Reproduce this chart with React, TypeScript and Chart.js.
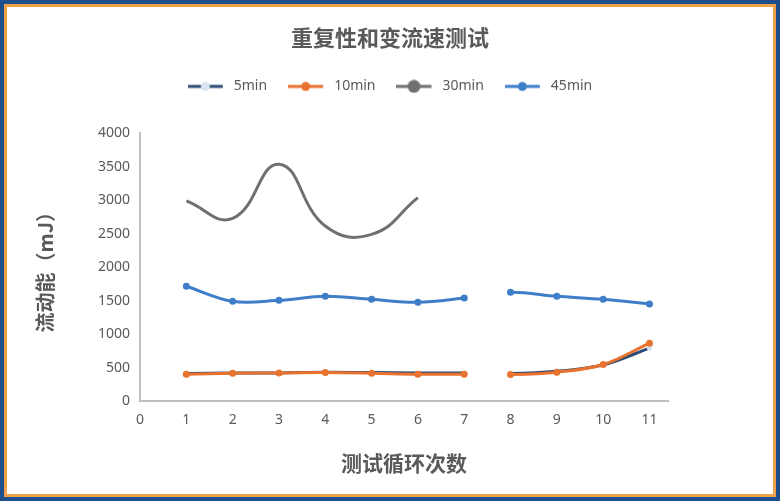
import { useEffect, useRef } from "react";
import { Chart, registerables } from "chart.js";

Chart.register(...registerables);

// test cycles (x) and flow energy in mJ (y)
const cycles = [1, 2, 3, 4, 5, 6, 7, 8, 9, 10, 11];
const cycles30min = [1, 2, 3, 4, 5, 6];
const energy5min = [410, 420, 420, 430, 425, 420, 420, 410, 445, 540, 790];
const energy10min = [400, 415, 420, 425, 415, 400, 400, 395, 430, 545, 865];
const energy30min = [2990, 2730, 3540, 2615, 2490, 3040];
const energy45min = [1715, 1490, 1505, 1565, 1520, 1475, 1540, 1625, 1565, 1520, 1450];
const seriesNames = ["5min", "10min", "30min", "45min"];
const xTickValues = [0, 1, 2, 3, 4, 5, 6, 7, 8, 9, 10, 11];
const breakAfterCycle = 7; // no line between cycle 7 and 8

const TEXT = "#595959";
const AXIS = "#BFBFBF";
const CJK = '"Noto Sans CJK SC", "Noto Sans", sans-serif';
const NUM = '"Noto Sans", "Noto Sans CJK SC", sans-serif';

const toPoints = (xs: number[], ys: number[]) => xs.map((x, i) => ({ x, y: ys[i] }));

// legend icon: a short line with a circle in the middle
const makeIcon = (line: string, fill: string, r: number) => {
  const c = document.createElement("canvas");
  c.width = 39;
  c.height = 14;
  const ctx = c.getContext("2d");
  if (ctx) {
    ctx.strokeStyle = line;
    ctx.lineWidth = 3;
    ctx.beginPath();
    ctx.moveTo(0, 7);
    ctx.lineTo(35, 7);
    ctx.stroke();
    ctx.fillStyle = fill;
    ctx.beginPath();
    ctx.arc(17.5, 7, r, 0, Math.PI * 2);
    ctx.fill();
  }
  return c;
};

// extra room under the legend
const legendMargin = {
  id: "legendMargin",
  beforeInit(chart: any) {
    const fit = chart.legend.fit;
    chart.legend.fit = function () {
      fit.bind(chart.legend)();
      this.height += 30;
    };
  },
};

const App = () => {
  const chartRef = useRef<HTMLCanvasElement | null>(null);
  const chartInstance = useRef<Chart | null>(null);

  useEffect(() => {
    if (!chartRef.current) return;
    if (chartInstance.current) chartInstance.current.destroy();

    const colors = ["#2B4A74", "#E9722E", "#707070", "#3E7EC9"];
    const markerFill = ["#D9E4F2", "#E9722E", "#707070", "#3E7EC9"];
    const icons = [
      makeIcon(colors[0], markerFill[0], 4.5),
      makeIcon(colors[1], markerFill[1], 4.5),
      makeIcon(colors[2], markerFill[2], 6.5),
      makeIcon(colors[3], markerFill[3], 4.5),
    ];
    const gap = (color: string) => (ctx: any) =>
      ctx.p0.parsed.x === breakAfterCycle ? "transparent" : color;

    const ctx = chartRef.current.getContext("2d");
    if (!ctx) return;
    chartInstance.current = new Chart(ctx, {
      type: "line",
      data: {
        datasets: [
          {
            label: seriesNames[0],
            data: toPoints(cycles, energy5min),
            borderColor: colors[0],
            backgroundColor: markerFill[0],
            pointBackgroundColor: markerFill[0],
            pointBorderWidth: 0,
            pointRadius: 2.5,
            borderWidth: 3,
            tension: 0.35,
            segment: { borderColor: gap(colors[0]) },
            order: 3,
          },
          {
            label: seriesNames[1],
            data: toPoints(cycles, energy10min),
            borderColor: colors[1],
            backgroundColor: markerFill[1],
            pointBackgroundColor: markerFill[1],
            pointBorderWidth: 0,
            pointRadius: 3.5,
            borderWidth: 3,
            tension: 0.35,
            segment: { borderColor: gap(colors[1]) },
            order: 2,
          },
          {
            label: seriesNames[2],
            data: toPoints(cycles30min, energy30min),
            borderColor: colors[2],
            backgroundColor: markerFill[2],
            pointRadius: 0,
            borderWidth: 3,
            tension: 0.45,
            order: 1,
          },
          {
            label: seriesNames[3],
            data: toPoints(cycles, energy45min),
            borderColor: colors[3],
            backgroundColor: markerFill[3],
            pointBackgroundColor: markerFill[3],
            pointBorderWidth: 0,
            pointRadius: 3.5,
            borderWidth: 3,
            tension: 0.35,
            segment: { borderColor: gap(colors[3]) },
            order: 0,
          },
        ],
      },
      options: {
        animation: false,
        responsive: true,
        maintainAspectRatio: false,
        layout: { padding: { left: 0, right: 0, top: 0, bottom: 14 } },
        plugins: {
          title: {
            display: true,
            text: "重复性和变流速测试",
            color: TEXT,
            font: { family: CJK, size: 22, weight: "bold" },
            padding: { top: 17, bottom: 8 },
          },
          legend: {
            position: "top",
            labels: {
              usePointStyle: true,
              pointStyleWidth: 39,
              padding: 21,
              color: TEXT,
              font: { family: NUM, size: 14 },
              generateLabels: (chart: any) =>
                chart.data.datasets.map((ds: any, i: number) => ({
                  text: ds.label,
                  pointStyle: icons[i],
                  fillStyle: "transparent",
                  strokeStyle: "transparent",
                  lineWidth: 0,
                  hidden: false,
                  datasetIndex: i,
                  fontColor: TEXT,
                })),
            },
          },
          tooltip: { enabled: false },
        },
        scales: {
          x: {
            type: "linear",
            min: 0,
            max: 11.4,
            afterBuildTicks: (scale: any) => {
              scale.ticks = xTickValues.map((v) => ({ value: v }));
            },
            ticks: {
              color: TEXT,
              padding: 11,
              font: { family: NUM, size: 14 },
              callback: (v: any) => String(v),
            },
            grid: { display: false, drawTicks: false },
            border: { display: true, color: AXIS, width: 2 },
            title: {
              display: true,
              text: "测试循环次数",
              color: TEXT,
              font: { family: CJK, size: 21, weight: "bold" },
              padding: { top: 11, bottom: 4 },
            },
          },
          y: {
            min: 0,
            max: 4000,
            ticks: {
              stepSize: 500,
              color: TEXT,
              padding: 10,
              font: { family: NUM, size: 14 },
              callback: (v: any) => String(v),
            },
            grid: { display: false, drawTicks: false },
            border: { display: true, color: AXIS, width: 2 },
            title: {
              display: true,
              text: "流动能（mJ）",
              color: TEXT,
              font: { family: CJK, size: 20, weight: "bold" },
              padding: { top: 26, bottom: 31 },
            },
          },
          // empty axis that only keeps space on the right
          yRight: {
            position: "right",
            display: true,
            grid: { display: false },
            border: { display: false },
            ticks: { display: false },
            afterFit: (scale: any) => {
              scale.width = 105;
            },
          },
        },
      },
      plugins: [legendMargin],
    });

    return () => {
      if (chartInstance.current) {
        chartInstance.current.destroy();
        chartInstance.current = null;
      }
    };
  }, []);

  return (
    <div
      style={{
        position: "fixed",
        left: 0,
        top: 0,
        width: 780,
        height: 501,
        boxSizing: "border-box",
        border: "4px solid #1F4E8C",
        background: "#fff",
      }}
    >
      <div
        style={{
          width: 772,
          height: 493,
          boxSizing: "border-box",
          border: "3px solid #EFA04A",
        }}
      >
        <div style={{ position: "relative", width: 766, height: 487 }}>
          <canvas ref={chartRef} />
        </div>
      </div>
    </div>
  );
};

export default App;
